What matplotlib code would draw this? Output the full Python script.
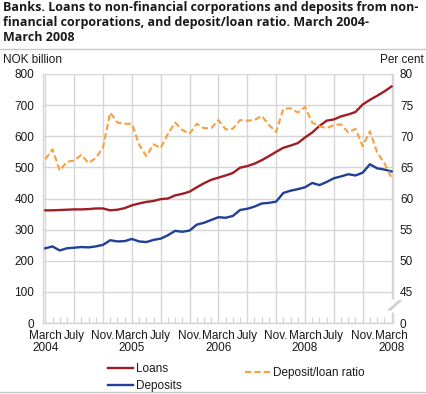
import numpy as np
import matplotlib
matplotlib.use('Agg')
import matplotlib.pyplot as plt
from matplotlib.lines import Line2D

# monthly values, March 2004 - March 2008
months = np.arange(49)
loans = [362, 362, 363, 364, 365, 365, 366, 368, 368, 362, 364, 369, 378,
         384, 389, 392, 398, 400, 410, 415, 422, 436, 449, 460, 467,
         474, 482, 499, 504, 512, 523, 536, 550, 563, 570, 578, 596,
         612, 633, 650, 654, 664, 670, 678, 702, 717, 730, 744, 760]
deposits = [240, 246, 233, 240, 242, 244, 243, 246, 251, 266, 262, 263, 270,
            262, 260, 267, 271, 282, 296, 293, 297, 316, 322, 331, 340,
            338, 344, 363, 367, 374, 384, 386, 390, 418, 425, 430, 436,
            450, 443, 453, 465, 471, 478, 474, 483, 510, 497, 493, 487]
ratio = [66.3, 67.9, 64.5, 65.9, 66.1, 67.0, 65.7, 66.5, 68.2, 73.8, 72.2, 72.0, 72.0,
         68.7, 66.8, 68.7, 68.1, 70.4, 72.2, 71.0, 70.4, 72.0, 71.3, 71.3, 72.6,
         71.1, 71.2, 72.6, 72.5, 72.6, 73.3, 71.8, 70.7, 74.4, 74.5, 73.8, 74.7,
         72.2, 71.6, 71.3, 71.8, 71.9, 70.6, 71.2, 68.4, 70.8, 67.4, 65.7, 63.3]

tick_pos = list(range(0, 49, 4))
tick_labels = ['March\n2004', 'July', 'Nov.', 'March\n2005', 'July', 'Nov.',
               'March\n2006', 'July', 'Nov.', 'March\n2008', 'July', 'Nov.',
               'March\n2008']
left_ticks = [0, 100, 200, 300, 400, 500, 600, 700, 800]
right_ticks = [40, 45, 50, 55, 60, 65, 70, 75, 80]
right_labels = ['0', '45', '50', '55', '60', '65', '70', '75', '80']

plt.rcParams['font.family'] = ['Liberation Sans', 'DejaVu Sans']
plt.rcParams['font.size'] = 8.5
txt = '#1a1a1a'
grid_c = '#d6d6d6'
red = '#a01d22'
blue = '#213f96'
orange = '#f7a03c'

W, H = 426, 394
fig = plt.figure(figsize=(W / 100, H / 100), dpi=100)
ax = fig.add_axes([42.7 / W, 1 - 323 / H, (393 - 42.7) / W, (323 - 74) / H])
ax2 = ax.twinx()

ax.plot(months, loans, color=red, lw=1.7, zorder=3)
ax.plot(months, deposits, color=blue, lw=1.7, zorder=3)
ax2.plot(months, ratio, color=orange, lw=1.5, ls=(0, (3, 1.5)), zorder=3)

ax.set_xlim(-0.36, 48.2)
ax.set_ylim(0, 800)
ax2.set_ylim(40, 80)

ax.set_xticks(tick_pos)
ax.set_xticklabels(tick_labels, linespacing=1.05)
ax.set_xticks(months, minor=True)
ax.tick_params(axis='x', which='major', length=0, pad=5, colors=txt)
ax.tick_params(axis='x', which='minor', direction='in', length=4.3, width=0.9, color=grid_c)
ax.set_yticks(left_ticks)
ax.tick_params(axis='y', length=0, pad=6, colors=txt)
ax2.set_yticks(right_ticks)
ax2.set_yticklabels(right_labels)
ax2.tick_params(axis='y', length=0, pad=5, colors=txt)

ax.grid(True, which='major', color=grid_c, lw=1.0, zorder=0)
ax.set_axisbelow(True)
for s in ax.spines.values():
    s.set_color(grid_c)
    s.set_linewidth(1.0)
ax.spines['top'].set_visible(False)
for s in ax2.spines.values():
    s.set_visible(False)

# axis break on the right
ax2.plot([1.0, 1.0], [0.045, 0.095], transform=ax2.transAxes, color='white',
         lw=5, clip_on=False, zorder=5, solid_capstyle='butt')
for dx in (0.0, 0.006):
    ax2.plot([0.987 + dx, 1.017 + dx], [0.052, 0.09], transform=ax2.transAxes,
             color='#c8c8c8', lw=0.9, clip_on=False, zorder=6)

# titles and units
fig.text(3 / W, 1 - 1 / H,
         'Banks. Loans to non-financial corporations and deposits from non-\n'
         'financial corporations, and deposit/loan ratio. March 2004-\n'
         'March 2008',
         ha='left', va='top', fontsize=9, fontweight='bold', family='Open Sans',
         color=txt, linespacing=1.2)
fig.add_artist(Line2D([0, 1], [1 - 49 / H, 1 - 49 / H], color='#c8c8c8', lw=1))
fig.add_artist(Line2D([0, 1], [1 - 392 / H, 1 - 392 / H], color='#c8c8c8', lw=1))
fig.text(3 / W, 1 - 60 / H, 'NOK billion', ha='left', va='center', color=txt)
fig.text(424 / W, 1 - 60 / H, 'Per cent', ha='right', va='center', color=txt)

h1 = Line2D([], [], color=red, lw=1.7)
h2 = Line2D([], [], color=blue, lw=1.7)
h3 = Line2D([], [], color=orange, lw=1.5, ls=(0, (3, 1.5)))
leg1 = fig.legend([h1, h2], ['Loans', 'Deposits'], loc='upper left',
                  bbox_to_anchor=(108 / W, 1 - 363 / H), frameon=False,
                  borderpad=0, borderaxespad=0, handlelength=2.1,
                  handletextpad=0.3, labelspacing=0.45, labelcolor=txt)
leg2 = fig.legend([h3], ['Deposit/loan ratio'], loc='upper left',
                  bbox_to_anchor=(245 / W, 1 - 367 / H), frameon=False,
                  borderpad=0, borderaxespad=0, handlelength=2.1,
                  handletextpad=0.3, labelcolor=txt)

fig.savefig('out.png', dpi=100)
